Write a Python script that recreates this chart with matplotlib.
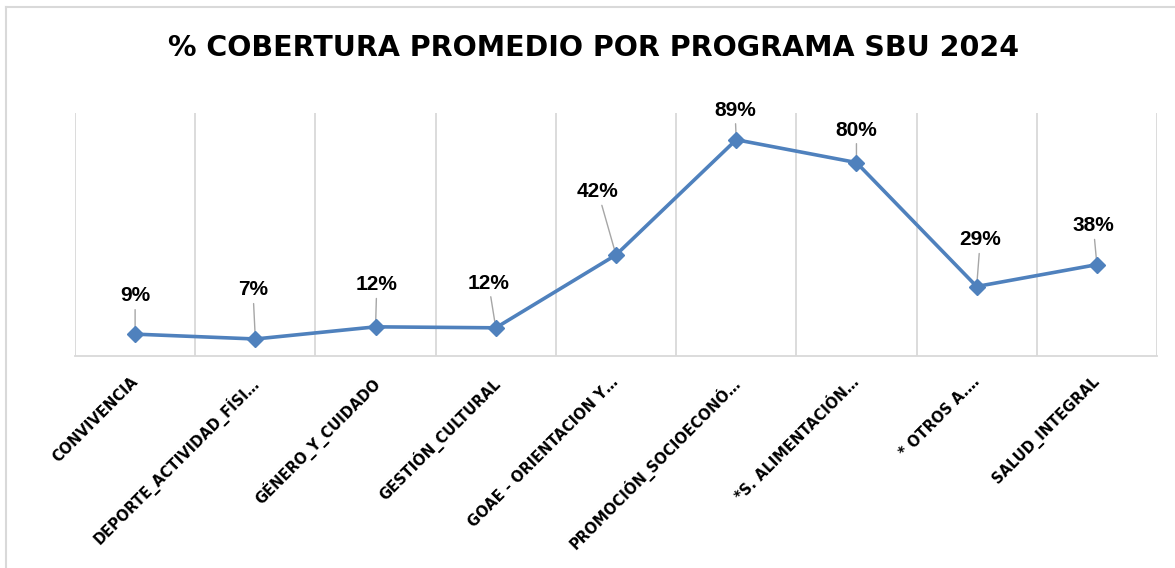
import matplotlib.pyplot as plt
from matplotlib.lines import Line2D
import matplotlib.transforms as mtransforms
import numpy as np

# Data
programas = [
    "CONVIVENCIA",
    "DEPORTE_ACTIVIDAD_FÍSI…",
    "GÉNERO_Y_CUIDADO",
    "GESTIÓN_CULTURAL",
    "GOAE - ORIENTACION Y…",
    "PROMOCIÓN_SOCIOECONÓ…",
    "*S. ALIMENTACIÓN…",
    "* OTROS A.…",
    "SALUD_INTEGRAL",
]
cobertura = [9.0, 7.0, 12.0, 11.6, 41.6, 89.0, 79.6, 28.6, 37.6]
etiquetas = ["9%", "7%", "12%", "12%", "42%", "89%", "80%", "29%", "38%"]

# label offsets (data units) for the data labels
label_dx = [0.0, -0.02, 0.01, -0.06, -0.15, -0.01, 0.0, 0.03, -0.03]
label_dy = [15.7, 20.2, 17.3, 18.4, 26.0, 12.2, 13.4, 19.2, 16.0]

blue = "#4F81BD"
grid_gray = "#D9D9D9"

fig = plt.figure(figsize=(11.75, 5.68), dpi=100)
ax = fig.add_axes([75 / 1175, 1 - 356 / 568, (1157 - 75) / 1175, (356 - 113) / 568])

x = np.arange(len(programas))

# vertical gridlines between categories
for b in np.arange(-0.5, len(programas)):
    ax.axvline(b, color=grid_gray, lw=1.3, zorder=0)

ax.plot(x, cobertura, color=blue, lw=2.6, marker="D", markersize=8,
        markerfacecolor=blue, markeredgecolor=blue, zorder=3)

# data labels with leader lines
for i, (v, t) in enumerate(zip(cobertura, etiquetas)):
    ax.annotate(t, xy=(i, v), xytext=(i + label_dx[i], v + label_dy[i]),
                ha="center", va="center", fontsize=15, fontweight="bold",
                family="Liberation Sans", color="black", annotation_clip=False,
                arrowprops=dict(arrowstyle="-", color="#A6A6A6", lw=1.0,
                                shrinkA=1, shrinkB=0),
                zorder=2)

ax.set_xlim(-0.5, len(programas) - 0.5)
ax.set_ylim(0, 100)
ax.set_yticks([])
ax.set_xticks(x)
ax.set_xticklabels(programas, rotation=45, ha="right", va="top",
                   rotation_mode="anchor", fontsize=10.5, fontweight="bold",
                   family="DejaVu Sans")
ax.tick_params(axis="x", length=0, pad=13)
offset = mtransforms.ScaledTranslation(-5 / 100, 0, fig.dpi_scale_trans)
for lab in ax.get_xticklabels():
    lab.set_transform(lab.get_transform() + offset)

for s in ["top", "left", "right"]:
    ax.spines[s].set_visible(False)
ax.spines["bottom"].set_color(grid_gray)
ax.spines["bottom"].set_linewidth(1.3)

# title
fig.text(593 / 1175, 1 - 48 / 568, "% COBERTURA PROMEDIO POR PROGRAMA SBU 2024",
         ha="center", va="center", fontsize=20.5, fontweight="bold",
         family="DejaVu Sans", color="black")

# chart frame (top and left edges visible)
fig.add_artist(Line2D([6 / 1175, 1], [1 - 7 / 568, 1 - 7 / 568],
                      color=grid_gray, lw=1.5, transform=fig.transFigure))
fig.add_artist(Line2D([6 / 1175, 6 / 1175], [0, 1 - 7 / 568],
                      color=grid_gray, lw=1.5, transform=fig.transFigure))

fig.savefig("out.png", dpi=100)
